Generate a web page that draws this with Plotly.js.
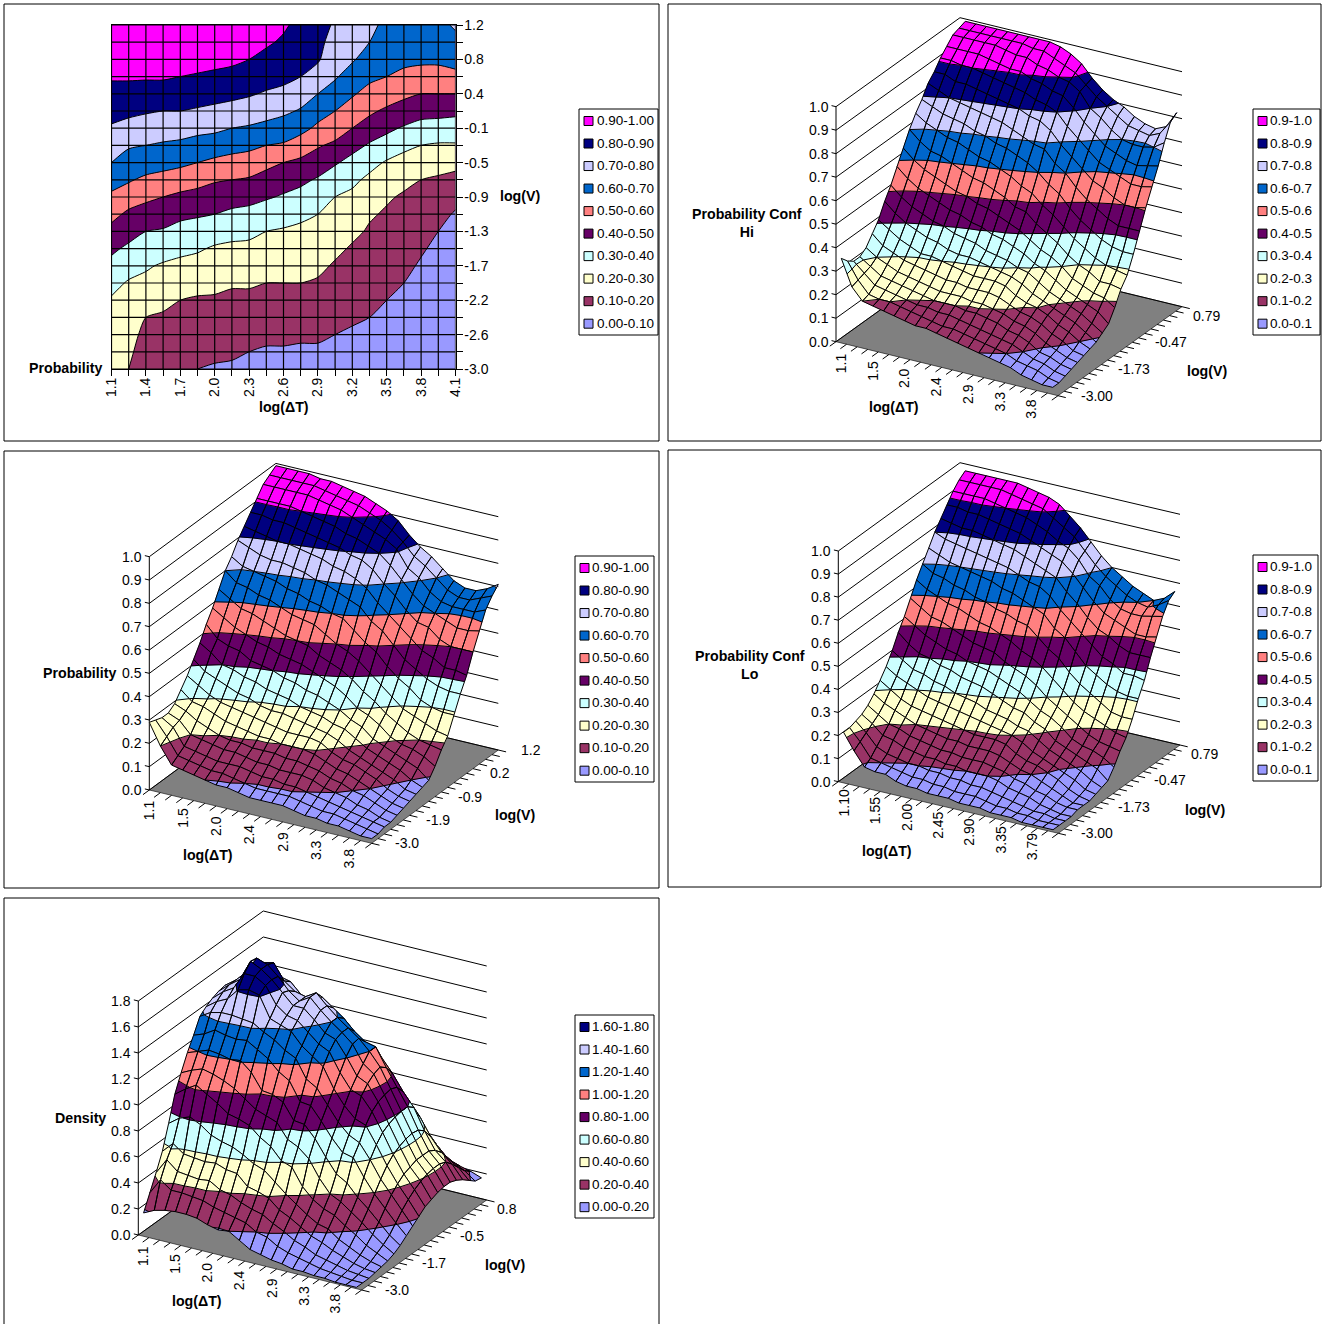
<!DOCTYPE html>
<html><head><meta charset="utf-8"><style>html,body{margin:0;padding:0;background:#fff}</style>
<script src="https://cdn.plot.ly/plotly-3.0.1.min.js"></script></head>
<body><div id="chart" style="width:1329px;height:1324px"></div>
<script>
const xVals=[1.1,1.25,1.4,1.55,1.7,1.85,2.0,2.15,2.3,2.45,2.6,2.75,2.9,3.05,3.2,3.35,3.5,3.65,3.8,3.95,4.1];
const yVals=[1.2,0.99,0.78,0.57,0.36,0.15,-0.06,-0.27,-0.48,-0.69,-0.9,-1.11,-1.32,-1.53,-1.74,-1.95,-2.16,-2.37,-2.58,-2.79,-3.0];
const contourXLabels=["1.1","1.4","1.7","2.0","2.3","2.6","2.9","3.2","3.5","3.8","4.1"];
const contourYLabels=["1.2","0.8","0.4","-0.1","-0.5","-0.9","-1.3","-1.7","-2.2","-2.6","-3.0"];
const bandColors=["#9999FF","#993366","#FFFFCC","#CCFFFF","#660066","#FF8080","#0066CC","#CCCCFF","#000080","#FF00FF"];
const legendProb2=["0.90-1.00","0.80-0.90","0.70-0.80","0.60-0.70","0.50-0.60","0.40-0.50","0.30-0.40","0.20-0.30","0.10-0.20","0.00-0.10"];
const legendProb1=["0.9-1.0","0.8-0.9","0.7-0.8","0.6-0.7","0.5-0.6","0.4-0.5","0.3-0.4","0.2-0.3","0.1-0.2","0.0-0.1"];
const legendDensity=["1.60-1.80","1.40-1.60","1.20-1.40","1.00-1.20","0.80-1.00","0.60-0.80","0.40-0.60","0.20-0.40","0.00-0.20"];
// values in hundredths, one list per logΔT column, from logV=1.2 down to logV=-3.0
const probability=[
[99,97,95,91,87,83,79,74,70,64,58,53,47,42,37,33,29,27,27,28,29],
[99,97,95,91,87,82,77,71,66,61,55,48,44,38,34,29,27,25,24,22,20],
[99,97,95,91,86,81,75,70,65,58,52,46,40,36,31,28,24,20,17,15,13],
[99,97,95,91,86,80,74,69,63,57,50,45,39,34,29,26,22,19,16,14,12],
[98,97,95,90,85,80,74,68,62,55,48,42,37,32,28,24,20,18,15,13,11],
[98,96,94,89,84,79,73,66,60,53,47,41,36,31,27,23,19,17,14,12,10],
[97,95,93,88,83,78,72,65,58,51,45,40,34,29,26,22,19,17,14,12,9],
[96,94,92,87,82,77,70,63,57,50,44,38,33,28,25,21,18,16,14,11,9],
[95,93,90,85,81,75,69,62,56,49,43,37,32,28,24,21,18,15,13,10,8],
[93,91,88,84,79,74,67,60,53,46,41,35,30,27,23,20,18,15,12,9,7],
[91,89,86,82,78,72,65,59,50,44,39,34,29,26,23,20,17,14,12,9,7],
[88,86,84,80,75,69,63,55,48,42,37,32,28,25,23,20,17,14,11,9,7],
[83,82,81,76,70,64,58,51,45,39,34,30,26,24,22,19,16,14,11,9,7],
[79,77,74,71,66,60,55,48,41,35,30,27,25,22,19,17,15,13,10,8,6],
[76,74,71,66,61,56,50,43,37,32,28,25,22,19,17,15,13,11,9,7,5],
[72,70,66,62,57,52,45,39,33,28,25,21,19,17,16,14,12,10,8,6,5],
[68,66,63,60,56,48,42,36,29,25,21,19,17,15,14,12,10,9,7,6,4],
[66,64,62,58,52,46,39,32,27,22,19,17,15,13,12,10,9,7,6,5,4],
[66,64,62,56,50,43,37,30,25,20,18,15,13,11,9,8,7,6,5,4,3],
[68,66,62,56,50,43,36,29,23,19,16,13,10,8,7,6,5,4,4,3,2],
[71,68,64,57,50,42,36,29,22,18,13,9,8,7,6,5,4,3,3,2,2]];
const confHi=[
[99,98,97,94,91,87,84,79,75,70,64,58,52,47,41,37,33,31,31,33,36],
[99,98,97,94,91,87,82,77,72,66,60,54,48,43,38,33,30,28,27,26,25],
[99,98,97,94,90,85,80,75,70,63,57,51,45,40,35,31,28,25,23,21,20],
[99,98,97,94,90,85,79,74,68,62,55,49,43,38,33,29,26,24,22,20,19],
[99,98,97,93,89,84,78,73,67,60,53,47,41,36,31,28,25,23,21,20,18],
[99,98,96,92,88,83,77,71,65,58,51,45,40,35,31,27,24,22,20,19,17],
[99,98,95,91,87,82,76,70,63,56,50,44,38,33,30,26,23,21,19,18,16],
[99,97,95,91,86,81,75,68,62,55,48,42,37,32,29,25,22,20,19,17,15],
[99,97,93,89,85,80,73,67,60,53,47,41,36,32,28,25,22,20,18,16,15],
[98,95,92,88,83,78,71,65,58,51,45,39,34,31,27,24,22,20,18,15,14],
[96,93,90,86,82,77,69,63,55,48,43,38,33,30,27,24,21,19,17,15,13],
[93,91,89,85,80,74,68,60,53,47,41,36,32,29,27,24,21,19,16,14,12],
[88,87,86,81,75,69,63,56,49,43,38,34,30,28,26,23,20,18,15,13,11],
[84,83,80,76,71,65,60,53,46,40,35,31,29,26,23,21,19,17,14,12,10],
[81,80,77,72,67,61,55,48,42,37,33,29,26,23,21,19,17,15,13,11,9],
[79,77,73,68,63,57,51,44,38,33,30,26,23,21,20,18,16,14,12,10,8],
[76,74,70,66,61,55,48,41,35,30,26,23,21,19,18,16,14,12,10,8,7],
[74,73,69,64,59,52,45,38,32,28,24,21,19,17,15,13,11,9,8,7,5],
[73,72,69,63,57,50,43,36,30,25,22,19,17,15,13,11,9,8,7,6,4],
[75,74,70,64,57,50,43,35,29,25,21,17,14,12,10,8,7,6,5,4,3],
[82,80,73,65,58,51,43,35,28,24,18,13,11,9,8,7,6,5,4,3,3]];
const confLo=[
[97,95,92,88,84,80,75,70,65,59,53,48,42,37,33,29,26,24,23,22,22],
[97,95,92,88,83,78,73,67,62,56,50,44,39,34,30,26,23,21,19,17,15],
[97,95,92,87,82,77,71,66,60,53,47,41,36,32,27,24,20,17,14,11,9],
[97,95,92,87,82,76,70,64,58,52,45,40,35,30,25,22,19,16,12,10,8],
[97,95,91,86,81,75,69,63,57,50,43,38,33,28,24,20,17,14,11,9,8],
[97,94,90,85,80,74,68,61,55,48,42,37,32,27,23,19,16,13,10,8,6],
[96,93,89,84,79,73,67,60,53,46,40,35,30,26,22,18,15,12,10,7,5],
[95,92,88,83,78,72,65,58,52,45,39,34,29,25,21,17,14,12,9,7,5],
[94,91,86,81,76,70,64,57,50,44,38,33,28,24,20,17,14,11,9,6,4],
[92,88,84,79,74,68,62,55,48,41,36,31,26,23,19,16,13,11,8,6,4],
[88,85,81,77,72,67,60,54,45,39,34,29,25,22,19,16,13,10,8,5,4],
[84,82,79,75,70,64,58,50,43,37,32,27,24,21,19,16,13,10,7,5,3],
[79,77,75,71,65,59,53,46,40,34,29,26,22,20,18,15,12,10,7,5,3],
[74,72,69,66,61,55,50,43,36,30,26,23,21,18,15,13,11,9,6,4,3],
[70,68,66,61,56,51,45,38,32,27,24,21,18,15,13,11,9,7,5,3,2],
[67,65,61,57,52,47,40,34,28,24,21,17,15,13,12,10,8,6,4,3,2],
[64,62,58,55,50,43,37,31,25,21,17,15,13,11,10,8,6,5,3,2,2],
[62,60,57,53,47,41,34,28,23,18,15,13,11,9,8,6,5,3,2,2,1],
[60,59,57,51,45,38,32,25,21,16,14,11,9,7,5,4,3,2,2,1,1],
[62,61,58,51,45,38,31,24,19,15,12,9,6,4,3,2,2,1,1,1,1],
[66,64,59,52,45,37,31,24,18,14,9,5,4,3,2,2,2,1,1,1,1]];
const density=[
[40,60,85,105,125,138,145,148,147,145,142,138,127,117,105,92,73,55,42,30,18],
[42,62,88,110,130,143,150,154,154,152,148,143,130,120,109,98,79,63,54,42,22],
[45,65,90,115,135,148,156,162,160,157,152,145,135,123,112,103,82,57,47,36,24],
[45,66,92,118,138,152,168,175,176,170,161,145,133,122,110,98,78,56,46,36,25],
[45,68,95,120,140,156,170,172,172,170,163,144,132,120,107,93,72,55,45,35,25],
[45,70,95,120,142,154,158,165,166,165,161,143,133,121,103,87,69,56,46,34,24],
[45,68,92,115,135,146,152,156,158,152,145,138,128,114,97,85,67,53,41,31,21],
[42,66,90,112,130,142,150,150,150,146,142,134,123,102,91,82,63,52,39,29,19],
[42,66,90,115,135,148,155,155,150,144,139,128,115,101,88,75,58,44,35,27,20],
[40,62,87,110,130,142,147,147,143,137,130,124,110,97,85,70,55,42,32,25,15],
[36,58,82,105,125,136,140,140,135,130,124,110,96,85,74,61,48,39,30,20,10],
[34,54,76,98,115,128,134,134,132,126,118,105,95,84,70,58,41,32,25,18,8],
[33,52,73,93,110,122,128,127,121,112,103,94,85,75,63,45,35,28,21,13,6],
[32,50,70,90,108,120,120,114,108,101,92,83,74,63,50,37,29,23,16,10,5],
[30,46,66,84,98,106,110,108,104,98,84,75,65,52,40,32,24,18,13,8,3],
[28,42,58,74,86,93,95,94,92,88,81,71,63,47,36,29,22,15,9,6,3],
[26,38,52,65,76,80,80,79,77,74,68,60,50,38,30,23,16,11,7,4,2],
[24,32,42,52,60,64,65,64,62,59,54,47,39,31,24,18,12,8,5,3,2],
[21,27,34,42,47,50,50,50,48,46,42,37,30,23,17,12,8,5,3,2,1],
[19,23,29,35,40,42,42,41,39,36,32,27,21,15,11,8,5,3,2,1,1],
[16,17,21,25,28,30,30,29,27,25,21,17,13,9,6,4,3,2,1,1,1]];

const W=1329,H=1324,FONT="Liberation Sans";
const px=v=>v/W, py=v=>1-v/H;
const toRows=cols=>cols[0].map((_,r)=>cols.map(c=>c[r]/100));
const stepScale=colors=>{const n=colors.length,s=[];colors.forEach((c,i)=>{s.push([i/n,c],[(i+1)/n,c]);});return s;};

const shapes=[],annotations=[],traces=[];
function text(s,x,y,anchor,size,rot){annotations.push({text:s,xref:'paper',yref:'paper',x:px(x),y:py(y),xanchor:anchor||'center',yanchor:'middle',showarrow:false,textangle:rot||0,font:{family:FONT,size:size||14.2,color:'#000'}});}
function frame(x0,y0,x1,y1){shapes.push({type:'rect',xref:'paper',yref:'paper',x0:px(x0),x1:px(x1),y0:py(y0),y1:py(y1),line:{color:'#000',width:1},layer:'above'});}
function legend(box,swatchX,textX,firstY,labels,colors){
  frame(box[0],box[1],box[2],box[3]);
  labels.forEach((l,i)=>{const y=firstY+i*22.52;
    shapes.push({type:'rect',xref:'paper',yref:'paper',x0:px(swatchX),x1:px(swatchX+9),y0:py(y-4.5),y1:py(y+4.5),fillcolor:colors[colors.length-1-i],line:{color:'#000',width:1},layer:'above'});
    text(l,textX-2,y-0.5,'left',13.5);});
}
[[4,4,659,441],[668,4,1321,441],[4,451,659,888],[668,450,1321,887],[4,898,659,1330]].forEach(f=>frame(...f));
legend([579,109,658,335],584,597,121,legendProb2,bandColors);
legend([1253,109,1320,335],1258,1270,121,legendProb1,bandColors);
legend([575,556,654,782],580,592,568,legendProb2,bandColors);
legend([1253,555,1318,781],1258,1270,567,legendProb1,bandColors);
legend([575,1015,654,1218],580,592,1027,legendDensity,bandColors.slice(0,9));

const DT='<b>log(ΔT)</b>',LV='<b>log(V)</b>';
text(DT,284,407);text(LV,520,196);text('<b>Probability</b>',65,368);
text(DT,894,407);text(LV,1207,371);text('<b>Probability Conf<br>Hi</b>',747,223);
text(DT,208,855);text(LV,515,815);text('<b>Probability</b>',79,673);
text(DT,887,851);text(LV,1205,810);text('<b>Probability Conf<br>Lo</b>',750,665);
text(DT,197,1301);text(LV,505,1265);text('<b>Density</b>',80,1118);

// contour panel
traces.push({type:'contour',x:xVals,y:yVals,z:toRows(probability),zmin:0,zmax:1,zauto:false,autocontour:false,showscale:false,hoverinfo:'skip',
  colorscale:stepScale(bandColors),contours:{start:0.1,end:0.9,size:0.1,coloring:'fill',showlines:true},line:{color:'#000',width:1,smoothing:0.7}});
xVals.forEach(v=>shapes.push({type:'line',xref:'x',yref:'y',x0:v,x1:v,y0:-3,y1:1.2,line:{color:'#000',width:1.2},layer:'above'}));
yVals.forEach(v=>shapes.push({type:'line',xref:'x',yref:'y',x0:1.1,x1:4.1,y0:v,y1:v,line:{color:'#000',width:1.2},layer:'above'}));

const layout={width:W,height:H,margin:{l:0,r:0,t:0,b:0},paper_bgcolor:'#fff',plot_bgcolor:'rgba(0,0,0,0)',showlegend:false,
  font:{family:FONT,size:14,color:'#000'},shapes,annotations,
  xaxis:{domain:[px(111.5),px(455.5)],range:[1.1,4.1],tickmode:'array',tickvals:xVals,ticktext:xVals.map((v,i)=>i%2?'':contourXLabels[i/2]),tickangle:-90,ticks:'outside',ticklen:6,tickcolor:'#000',ticklabelstandoff:-4,showgrid:false,zeroline:false,showline:true,linecolor:'#000',mirror:true,tickfont:{family:FONT,size:14}},
  yaxis:{domain:[py(369),py(25)],range:[-3,1.2],side:'right',tickmode:'array',tickvals:yVals,ticktext:yVals.map((v,i)=>i%2?'':contourYLabels[i/2]),ticks:'outside',ticklen:6,tickcolor:'#000',ticklabelstandoff:-1,showgrid:false,zeroline:false,showline:true,linecolor:'#000',mirror:true,tickfont:{family:FONT,size:14}},
  xaxis2:{domain:[0,1],range:[0,W],visible:false,anchor:'y2',fixedrange:true},
  yaxis2:{domain:[0,1],range:[H,0],visible:false,anchor:'x2',fixedrange:true}
};

const xIdx=[0,3,6,9,12,15,18];
const zTen=["0.0","0.1","0.2","0.3","0.4","0.5","0.6","0.7","0.8","0.9","1.0"];
const zNine=["0.0","0.2","0.4","0.6","0.8","1.0","1.2","1.4","1.6","1.8"];
const panels=[
 {cols:confHi,inset:true,o:[836,341.7],ax:[222,54],ay:[124,-89],az:235,xl:["1.1","1.5","2.0","2.4","2.9","3.3","3.8"],yi:[20,14,8,2],yl:["-3.00","-1.73","-0.47","0.79"],zmax:1,zl:zTen,colors:bandColors},
 {cols:probability,inset:false,o:[149.3,790],ax:[222.4,53.3],ay:[126.6,-93.3],az:233.3,xl:["1.1","1.5","2.0","2.4","2.9","3.3","3.8"],yi:[20,15,10,5,0],yl:["-3.0","-1.9","-0.9","0.2","1.2"],zmax:1,zl:zTen,colors:bandColors},
 {cols:confLo,inset:true,o:[838.3,781.7],ax:[220,51.6],ay:[121.7,-88.3],az:230.7,xl:["1.10","1.55","2.00","2.45","2.90","3.35","3.79"],yi:[20,14,8,2],yl:["-3.00","-1.73","-0.47","0.79"],zmax:1,zl:zTen,colors:bandColors},
 {cols:density,inset:true,o:[138.3,1235],ax:[223.4,55],ay:[125,-90],az:234,xl:["1.1","1.5","2.0","2.4","2.9","3.3","3.8"],yi:[20,14,8,2],yl:["-3.0","-1.7","-0.5","0.8"],zmax:1.8,zl:zNine,colors:bandColors.slice(0,9)}
];

function clip(poly,level,keepAbove){
  const out=[];
  poly.forEach((a,i)=>{const b=poly[(i+1)%poly.length];
    const ia=keepAbove?a[2]>=level:a[2]<=level, ib=keepAbove?b[2]>=level:b[2]<=level;
    if(ia)out.push(a);
    if(ia!==ib){const t=(level-a[2])/(b[2]-a[2]);out.push([a[0]+t*(b[0]-a[0]),a[1]+t*(b[1]-a[1]),level]);}
  });
  return out;
}
function crossings(q,level){
  const pts=[];
  q.forEach((a,i)=>{const b=q[(i+1)%4];
    if((a[2]<level)!==(b[2]<level)){const t=(level-a[2])/(b[2]-a[2]);pts.push([a[0]+t*(b[0]-a[0]),a[1]+t*(b[1]-a[1]),level]);}
  });
  return pts;
}
const lineTrace=(xs,ys,w,c)=>({type:'scatter',mode:'lines',x:xs,y:ys,xaxis:'x2',yaxis:'y2',hoverinfo:'skip',line:{color:c||'#000',width:w||1},connectgaps:false});

panels.forEach(p=>{
  const zRows=toRows(p.cols);
  const F=(u,v,w)=>[p.o[0]+u*p.ax[0]+v*p.ay[0], p.o[1]+u*p.ax[1]+v*p.ay[1]-w*p.az];
  const m=p.inset?0.5/21:0;
  const uOf=x=>m+(1-2*m)*(x-1.1)/3, vOf=y=>(y+3)/4.2;
  const P=(x,y,z)=>F(uOf(x),vOf(y),z/p.zmax);
  const lx=[],ly=[];
  const seg=(...pts)=>{pts.forEach(q=>{const s=F(...q);lx.push(s[0]);ly.push(s[1]);});lx.push(null);ly.push(null);};
  const fl=[[0,0,0],[1,0,0],[1,1,0],[0,1,0],[0,0,0]].map(q=>F(...q));
  traces.push({type:'scatter',mode:'lines',x:fl.map(a=>a[0]),y:fl.map(a=>a[1]),xaxis:'x2',yaxis:'y2',fill:'toself',fillcolor:'#808080',hoverinfo:'skip',line:{color:'#000',width:0.6}});
  const fracs=p.zl.map((t,i)=>i/(p.zl.length-1));
  fracs.forEach(w=>{seg([0,0,w],[0,1,w],[1,1,w]);seg([0,0,w],[-0.02,0,w]);});
  seg([0,0,0],[0,0,1]);
  const nTicks=p.inset?21:20;
  for(let i=0;i<=nTicks;i++)seg([i/nTicks,0,0],[i/nTicks,-0.05,0]);
  for(let i=0;i<=20;i++)seg([1,i/20,0],[1.035,i/20,0]);
  traces.push(lineTrace(lx.slice(),ly.slice(),1));
  const n=p.colors.length, step=p.zmax/n;
  for(let r=0;r<yVals.length-1;r++){
    const polys=p.colors.map(()=>({x:[],y:[]}));
    const mx=[],my=[];
    for(let c=0;c<xVals.length-1;c++){
      const q=[[xVals[c],yVals[r],zRows[r][c]],[xVals[c+1],yVals[r],zRows[r][c+1]],[xVals[c+1],yVals[r+1],zRows[r+1][c+1]],[xVals[c],yVals[r+1],zRows[r+1][c]]];
      p.colors.forEach((col,b)=>{
        let g=q.map(a=>a.slice());
        if(b>0)g=clip(g,b*step,true);
        if(g.length&&b<n-1)g=clip(g,(b+1)*step,false);
        if(g.length>2){g.forEach(a=>{const s=P(...a);polys[b].x.push(s[0]);polys[b].y.push(s[1]);});
          const s=P(...g[0]);polys[b].x.push(s[0],null);polys[b].y.push(s[1],null);}
      });
      [[0,1],[1,2],[2,3],[3,0]].forEach(e=>{const a=P(...q[e[0]]),b=P(...q[e[1]]);mx.push(a[0],b[0],null);my.push(a[1],b[1],null);});
      for(let b=1;b<n;b++){
        const pts=crossings(q,b*step);
        for(let k=0;k+1<pts.length;k+=2){const a=P(...pts[k]),d=P(...pts[k+1]);mx.push(a[0],d[0],null);my.push(a[1],d[1],null);}
      }
    }
    polys.forEach((g,b)=>{if(g.x.length)traces.push({type:'scatter',mode:'lines',x:g.x,y:g.y,xaxis:'x2',yaxis:'y2',fill:'toself',fillcolor:p.colors[b],hoverinfo:'skip',line:{color:p.colors[b],width:0.5}});});
    traces.push(lineTrace(mx,my,1));
  }
  const note=(t,pos,o)=>annotations.push(Object.assign({text:t,xref:'x2',yref:'y2',x:pos[0],y:pos[1],showarrow:false,font:{family:FONT,size:14,color:'#000'}},o));
  p.xl.forEach((t,i)=>note(t,F(uOf(xVals[xIdx[i]]),0,0),{textangle:-90,yshift:-20,xanchor:'center',yanchor:'middle'}));
  p.yi.forEach((r,i)=>note(p.yl[i],F(1,vOf(yVals[r]),0),{xanchor:'left',xshift:21,yanchor:'middle'}));
  fracs.forEach((w,i)=>note(p.zl[i],F(0,0,w),{xanchor:'right',xshift:-5,yanchor:'middle'}));
});
Plotly.newPlot('chart',traces,layout,{staticPlot:true,displayModeBar:false});
</script></body></html>
